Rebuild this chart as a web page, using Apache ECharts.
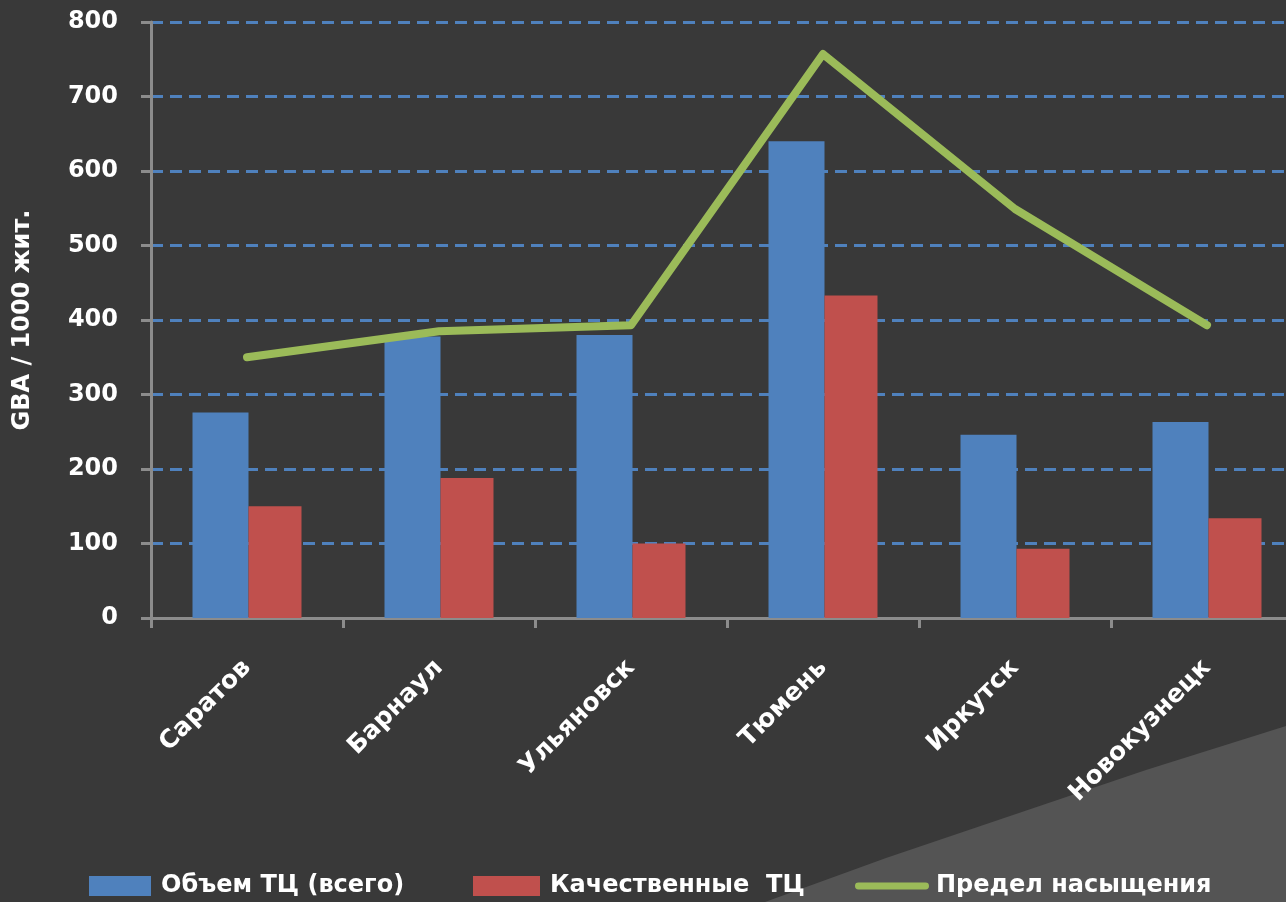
<!DOCTYPE html>
<html>
<head>
<meta charset="utf-8">
<script src="https://cdn.jsdelivr.net/npm/echarts@6/dist/echarts.min.js"></script>
<style>
html,body{margin:0;padding:0;background:#393939;overflow:hidden;}
#c{width:1310px;height:902px;}
</style>
</head>
<body>
<div id="c"></div>
<script>
const categories = ['Саратов', 'Барнаул', 'Ульяновск', 'Тюмень', 'Иркутск', 'Новокузнецк'];
const totalVolume = [276, 378, 380, 640, 246, 263];
const qualityVolume = [150, 188, 100, 433, 93, 134];
const saturationLimit = [350, 385, 393, 757, 549, 393];
const seriesNames = ['Объем ТЦ (всего)', 'Качественные  ТЦ', 'Предел насыщения'];
const yTicks = { min: 0, max: 800, interval: 100 };
const yAxisName = 'GBA / 1000 жит.';

const chart = echarts.init(document.getElementById('c'));
const legendText = { color: '#ffffff', fontSize: 24, fontWeight: 'bold', fontFamily: "'DejaVu Sans', sans-serif", padding: [0, 0, 0, 5] };
chart.setOption({
  backgroundColor: '#393939',
  animation: false,
  graphic: [{
    type: 'polygon',
    z: -10,
    silent: true,
    shape: { points: [[765, 902], [886, 858], [1013, 815], [1146, 770], [1286, 726], [1310, 719], [1310, 902]] },
    style: { fill: '#545454' }
  }],
  grid: { left: 151, top: 22, width: 1152, height: 596, containLabel: false },
  legend: [
    { left: 89, top: 874, padding: 0, itemWidth: 62, itemHeight: 20, icon: 'rect', data: [seriesNames[0]], textStyle: legendText },
    { left: 473, top: 874, padding: 0, itemWidth: 67, itemHeight: 20, icon: 'rect', data: [seriesNames[1]], textStyle: legendText },
    { left: 855, top: 874, padding: 0, itemWidth: 74, itemHeight: 20, data: [{ name: seriesNames[2], icon: 'path://M3,6.5 L71,6.5 A3.5,3.5 0 0 1 71,13.5 L3,13.5 A3.5,3.5 0 0 1 3,6.5 Z' }], textStyle: Object.assign({}, legendText, { padding: [0, 0, 0, 2] }) }
  ],
  xAxis: {
    type: 'category',
    data: categories,
    axisLine: { lineStyle: { color: '#8c8c8c', width: 3 } },
    axisTick: { show: true, length: 10, lineStyle: { color: '#8c8c8c', width: 3 } },
    axisLabel: {
      interval: 0, rotate: 45, margin: 46,
      color: '#ffffff', fontSize: 25, fontWeight: 'bold',
      fontFamily: "'DejaVu Sans', sans-serif"
    },
    splitLine: { show: false }
  },
  yAxis: {
    type: 'value',
    min: yTicks.min, max: yTicks.max, interval: yTicks.interval,
    name: yAxisName,
    nameLocation: 'middle',
    nameRotate: 90,
    nameGap: 116,
    nameTextStyle: { color: '#ffffff', fontSize: 24, fontWeight: 'bold', fontFamily: "'DejaVu Sans', sans-serif" },
    axisLine: { show: true, lineStyle: { color: '#8c8c8c', width: 3 } },
    axisTick: { show: true, length: 10, lineStyle: { color: '#8c8c8c', width: 3 } },
    axisLabel: { color: '#ffffff', fontSize: 24, fontWeight: 'bold', margin: 33, fontFamily: "'DejaVu Sans', sans-serif" },
    splitLine: { show: true, lineStyle: { color: '#4f81bd', width: 3, type: [12, 7] } }
  },
  series: [
    { name: seriesNames[0], type: 'bar', data: totalVolume, barWidth: 56, barGap: '0%', itemStyle: { color: '#4f81bd' } },
    { name: seriesNames[1], type: 'bar', data: qualityVolume, barWidth: 53, barGap: '0%', itemStyle: { color: '#c0504d' } },
    { name: seriesNames[2], type: 'line', data: saturationLimit, showSymbol: false, symbol: 'none',
      lineStyle: { color: '#9bbb59', width: 8, cap: 'round', join: 'round' }, itemStyle: { color: '#9bbb59' }, z: 5 }
  ]
});
</script>
</body>
</html>
